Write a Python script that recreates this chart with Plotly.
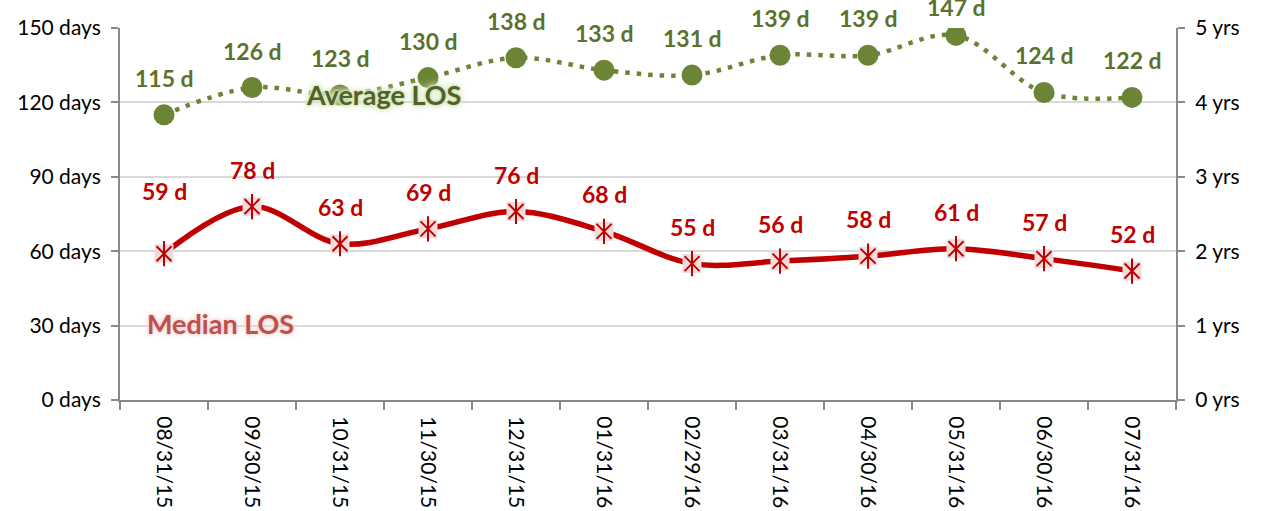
import plotly.graph_objects as go

categories = ["08/31/15", "09/30/15", "10/31/15", "11/30/15", "12/31/15", "01/31/16",
              "02/29/16", "03/31/16", "04/30/16", "05/31/16", "06/30/16", "07/31/16"]
average_los = [115, 126, 123, 130, 138, 133, 131, 139, 139, 147, 124, 122]
median_los = [59, 78, 63, 69, 76, 68, 55, 56, 58, 61, 57, 52]
left_ticks = [0, 30, 60, 90, 120, 150]
right_ticks = [0, 1, 2, 3, 4, 5]

GREEN = "#6B8435"
GREEN_TXT = "#5B722C"
RED = "#C00000"
PINK = "#F2DCDB"
FONT = "Lato, 'Open Sans', sans-serif"

fig = go.Figure()

fig.add_trace(go.Scatter(
    x=categories, y=average_los, mode="lines",
    line=dict(color=GREEN, width=4.5, dash="4.5px,7px", shape="spline", smoothing=1.0),
    hoverinfo="skip", showlegend=False))
fig.add_trace(go.Scatter(
    x=categories, y=average_los, mode="markers",
    marker=dict(symbol="circle", size=21, color=GREEN),
    showlegend=False))

fig.add_trace(go.Scatter(
    x=categories, y=median_los, mode="lines",
    line=dict(color=RED, width=5.5, shape="spline", smoothing=1.0),
    hoverinfo="skip", showlegend=False))
fig.add_trace(go.Scatter(
    x=categories, y=median_los, mode="markers",
    marker=dict(symbol="square", size=19, color=PINK),
    showlegend=False))
fig.add_trace(go.Scatter(
    x=categories, y=median_los, mode="markers",
    marker=dict(symbol="x-thin-open", size=15, color=RED, line=dict(width=2, color=RED)),
    showlegend=False))
fig.add_trace(go.Scatter(
    x=categories, y=median_los, mode="markers",
    marker=dict(symbol="line-ns-open", size=18, color=RED, line=dict(width=2, color=RED)),
    showlegend=False))

# invisible trace on secondary axis so it renders
fig.add_trace(go.Scatter(x=categories, y=[None] * len(categories), yaxis="y2",
                         mode="markers", showlegend=False, hoverinfo="skip"))

annotations = []
for i, (c, v) in enumerate(zip(categories, average_los)):
    ys = 28 if v == max(average_los) else 37
    annotations.append(dict(x=c, y=v, text=f"{v} d", showarrow=False, yshift=ys,
                            xanchor="center", yanchor="middle",
                            font=dict(family=FONT, size=23, color=GREEN_TXT, weight="bold")))
for i, (c, v) in enumerate(zip(categories, median_los)):
    ys = 63 if i == 0 else 37
    annotations.append(dict(x=c, y=v, text=f"{v} d", showarrow=False, yshift=ys,
                            xanchor="center", yanchor="middle",
                            font=dict(family=FONT, size=23, color=RED, weight="bold")))

g_glow = ", ".join(["0 0 2px #D7E4BD"] * 4 + ["0 0 5px #D7E4BD", "0 0 8px #DCE7C5", "0 0 10px #E4EDD3"])
r_glow = ", ".join(["0 0 2px #F2DCDB"] * 3 + ["0 0 5px #F2DCDB", "0 0 8px #F2DCDB"])
annotations.append(dict(xref="paper", yref="paper", x=(383 - 120) / 1056, y=(400 - 95) / 372,
                        text="Average LOS", showarrow=False, xanchor="center", yanchor="middle",
                        font=dict(family=FONT, size=27, color="#4F6228", weight="bold",
                                  shadow=g_glow)))
annotations.append(dict(xref="paper", yref="paper", x=(220 - 120) / 1056, y=(400 - 323) / 372,
                        text="Median LOS", showarrow=False, xanchor="center", yanchor="middle",
                        font=dict(family=FONT, size=27, color="#C0504D", weight="bold",
                                  shadow=r_glow)))

axis_line = "#898989"
fig.update_layout(
    width=1262, height=511,
    margin=dict(l=120, r=86, t=28, b=111, autoexpand=False),
    paper_bgcolor="white", plot_bgcolor="white",
    font=dict(family=FONT, size=21, color="#000000"),
    annotations=annotations,
    xaxis=dict(type="category", tickangle=90, tickson="boundaries", automargin=False,
               range=[-0.5, len(categories) - 0.5], ticklabelstandoff=10,
               ticks="outside", ticklen=8, tickcolor=axis_line, tickwidth=2,
               showline=True, linecolor=axis_line, linewidth=2,
               showgrid=False, tickfont=dict(size=21, color="#000")),
    yaxis=dict(range=[0, 150], tickvals=left_ticks, automargin=False,
               ticktext=[f"{t} days" for t in left_ticks], ticklabelstandoff=6,
               ticks="outside", ticklen=7, tickcolor=axis_line, tickwidth=2,
               showline=True, linecolor=axis_line, linewidth=2,
               gridcolor="#D9D9D9", gridwidth=2, zeroline=False,
               tickfont=dict(size=21, color="#000")),
    yaxis2=dict(range=[0, 5], tickvals=right_ticks, automargin=False,
                ticktext=[f"{t} yrs" for t in right_ticks], ticklabelstandoff=6,
                overlaying="y", side="right",
                ticks="outside", ticklen=7, tickcolor=axis_line, tickwidth=2,
                showline=True, linecolor=axis_line, linewidth=2,
                showgrid=False, zeroline=False,
                tickfont=dict(size=21, color="#000")),
)

fig.write_html("out.html", config={"displayModeBar": False},
               post_script="document.body.style.margin='0';document.body.style.overflow='hidden';")
